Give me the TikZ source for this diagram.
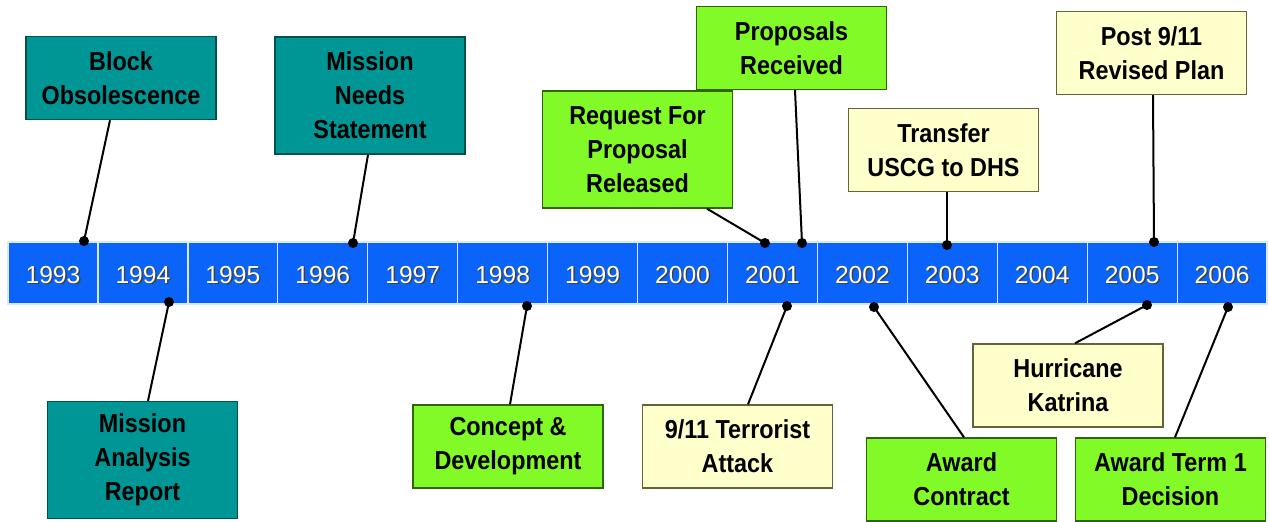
\documentclass[tikz,border=0pt]{standalone}
\usepackage{fontspec}
\setmainfont{Liberation Sans}
\newfontfamily\tallbold[FakeStretch=0.9]{Liberation Sans}
\usetikzlibrary{calc}

\definecolor{barblue}{RGB}{10,100,250}
\definecolor{tealfill}{RGB}{0,150,150}
\definecolor{tealline}{RGB}{0,80,80}
\definecolor{limefill}{RGB}{130,250,40}
\definecolor{limeline}{RGB}{50,100,10}
\definecolor{creamfill}{RGB}{255,255,204}
\definecolor{creamline}{RGB}{100,100,60}

\begin{document}
\begin{tikzpicture}[x=0.5pt, y=-0.5pt,
  cell/.style={rectangle, fill=barblue, draw=white!85!barblue, line width=0.6pt,
    minimum width=44.96pt, minimum height=31pt, inner sep=0pt},
  yr/.style={font=\fontsize{12.3}{14}\selectfont, inner sep=0pt},
  box/.style={rectangle, line width=0.7pt, align=center, inner sep=0pt,
    minimum width=95pt, minimum height=41.5pt,
    font=\tallbold\bfseries\fontsize{13}{16.9}\selectfont},
  tall/.style={minimum height=58.5pt},
  tealbox/.style={box, fill=tealfill, draw=tealline},
  limebox/.style={box, fill=limefill, draw=limeline},
  creambox/.style={box, fill=creamfill, draw=creamline},
  dot/.style={circle, fill=black, inner sep=0pt, minimum size=5pt},
  link/.style={line width=1pt}]

\useasboundingbox (0,0) rectangle (1269,521);

% the year bar
\foreach \y [count=\i from 0, evaluate=\i as \cx using 53+89.93*\i] in {1993,...,2006}{
  \node[cell] (c\y) at (\cx,273) {};
  \node[yr, text=black!75] (s\y) at ($(c\y.center)+(1.4,2.6)$) {\y};
  \node[yr, text=white] (t\y) at ($(c\y.center)+(0,2)$) {\y};
}

% events above the bar
\node[tealbox] (blk) at (121,78) {Block\\Obsolescence};
\node[tealbox, tall] (mns) at (370,95.5) {Mission\\Needs\\Statement};
\node[limebox, tall] (rfp) at (637.5,149.5) {Request For\\Proposal\\Released};
\node[limebox] (prr) at (791.5,48) {Proposals\\Received};
\node[creambox] (tud) at (943.5,150) {Transfer\\USCG to DHS};
\node[creambox] (prp) at (1151.5,53) {Post 9/11\\Revised Plan};

% events below the bar
\node[tealbox, tall] (mar) at (142.5,460) {Mission\\Analysis\\Report};
\node[limebox] (cad) at (508,446.5) {Concept \&\\Development};
\node[creambox] (tat) at (737.5,446.5) {9/11 Terrorist\\Attack};
\node[limebox] (awc) at (961.5,479.5) {Award\\Contract};
\node[creambox] (hk) at (1068,385.5) {Hurricane\\Katrina};
\node[limebox] (at1) at (1170.5,479.5) {Award Term 1\\Decision};

% pins on the bar
\node[dot] (p93) at (84,241) {};
\node[dot] (p96) at (353,243) {};
\node[dot] (p01a) at (765,243) {};
\node[dot] (p01b) at (802,243) {};
\node[dot] (p03) at (947,245) {};
\node[dot] (p05a) at (1154,242) {};
\node[dot] (p94) at (169,302) {};
\node[dot] (p98) at (527,306) {};
\node[dot] (p01c) at (787,306) {};
\node[dot] (p02) at (874,307) {};
\node[dot] (p05b) at (1147,305) {};
\node[dot] (p06) at (1228,307) {};

% connectors
\draw[link] ($(blk.south)+(-11,0)$) -- (p93.center);
\draw[link] ($(mns.south)+(-2,0)$) -- (p96.center);
\draw[link] ($(rfp.south)+(69.5,0)$) -- (p01a.center);
\draw[link] ($(prr.south)+(3.5,0)$) -- (p01b.center);
\draw[link] ($(tud.south)+(3.5,0)$) -- (p03.center);
\draw[link] ($(prp.south)+(1.5,0)$) -- (p05a.center);
\draw[link] ($(mar.north)+(5.5,0)$) -- (p94.center);
\draw[link] ($(cad.north)+(2,0)$) -- (p98.center);
\draw[link] ($(tat.north)+(10.5,0)$) -- (p01c.center);
\draw[link] ($(awc.north)+(2.5,0)$) -- (p02.center);
\draw[link] ($(hk.north)+(7,0)$) -- (p05b.center);
\draw[link] ($(at1.north)+(4.5,0)$) -- (p06.center);
\end{tikzpicture}
\end{document}
